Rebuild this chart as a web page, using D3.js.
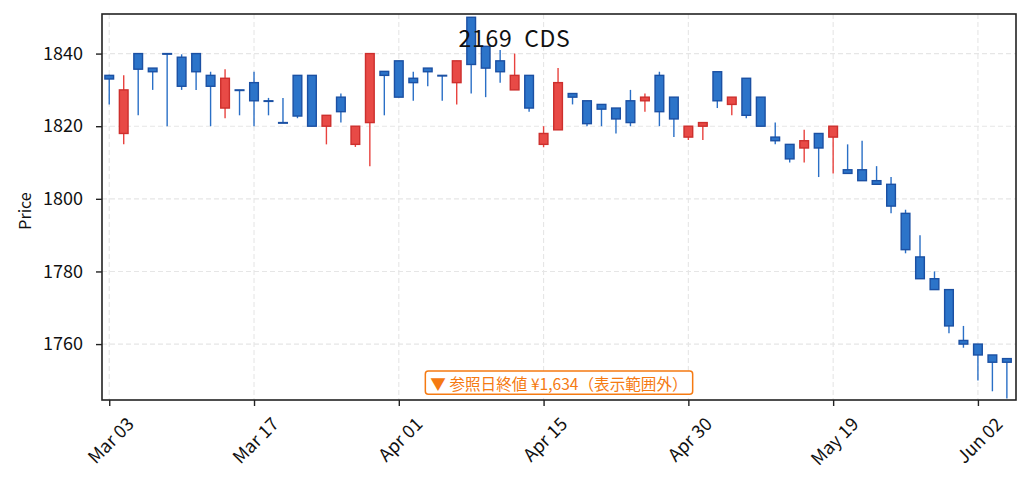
<!DOCTYPE html>
<html><head><meta charset="utf-8">
<script src="https://cdn.jsdelivr.net/npm/d3@7/dist/d3.min.js"></script>
<style>
html,body{margin:0;padding:0;background:#fff;}
svg{display:block;font-family:"Noto Sans CJK JP","Noto Sans",sans-serif;}
</style></head>
<body>
<svg id="c" width="1029" height="491"></svg>
<script>
const dates = ["Mar 03","Mar 04","Mar 05","Mar 06","Mar 07","Mar 10","Mar 11","Mar 12","Mar 13","Mar 14",
"Mar 17","Mar 18","Mar 19","Mar 21","Mar 24","Mar 25","Mar 26","Mar 27","Mar 28","Mar 31",
"Apr 01","Apr 02","Apr 03","Apr 04","Apr 07","Apr 08","Apr 09","Apr 10","Apr 11","Apr 14",
"Apr 15","Apr 16","Apr 17","Apr 18","Apr 21","Apr 22","Apr 23","Apr 24","Apr 25","Apr 28",
"Apr 30","May 01","May 07","May 08","May 09","May 12","May 13","May 14","May 15","May 16",
"May 19","May 20","May 21","May 22","May 23","May 26","May 27","May 28","May 29","May 30",
"Jun 02","Jun 03","Jun 04"];
const openV  = [1834,1818,1840,1836,1840,1839,1840,1834,1825,1830, 1832,1827,1821,1834,1834,1820,1828,1815,1821,1835.1,
 1838,1833.2,1836,1834,1832,1850,1842,1838,1830,1834, 1815,1819,1829,1827,1826,1825,1827,1827,1834,1828,
 1817,1820,1835,1826,1833.2,1828,1817,1815,1814,1818, 1817,1808,1808,1805,1804,1796,1784,1778,1775,1761,
 1760,1757,1756];
const highV  = [1834.2,1834,1840,1836,1840,1839.8,1840,1835,1835.7,1830, 1835,1827.8,1827.8,1834,1834,1823,1829,1820,1840,1835.1,
 1838,1835,1836,1834,1838,1850,1842,1841,1840,1834, 1820,1836,1829,1827,1826,1825,1830,1829,1835,1828,
 1820,1821,1835,1828,1833.2,1828,1821,1815,1819,1818, 1820,1815,1816,1809,1806,1797,1790,1780,1775,1765,
 1760,1757,1756];
const lowV   = [1826,1815,1823,1830,1820,1830,1830,1820,1822.2,1823, 1820,1823,1821,1822.2,1820,1815,1821,1814.3,1809,1823,
 1828,1827,1831,1827,1826,1829,1828,1832,1830,1824, 1814.2,1819,1826,1820,1820,1818,1820,1824,1820,1817,
 1816.2,1816.2,1825,1823,1822.2,1820,1815,1810,1810,1806, 1807,1807,1805,1804,1796,1785,1778,1775,1763,1759,
 1750,1747,1745];
const closeV = [1833,1830,1835.7,1835,1840,1831,1835,1831,1833.2,1830, 1827,1827,1821,1822.8,1820,1823,1824,1820,1840,1834,
 1828,1832,1835,1834,1838,1837,1836,1835,1834,1825, 1818,1832,1828,1820.7,1824.7,1822,1821,1828,1824,1822,
 1820,1821,1827,1828,1823,1820,1816,1811,1816,1814, 1820,1807,1805,1804,1798,1786,1778,1775,1765,1760,
 1757,1755,1755];
const yTicks = [1760,1780,1800,1820,1840];
const xTickIdx = [0,10,20,30,40,50,60];
const titleText = "2169  CDS";
const noteText = "▼ 参照日終値 ¥1,634（表示範囲外）";

const FONT = '"Noto Sans CJK JP","Noto Sans",sans-serif';
const svg = d3.select("#c");
const L=102, R=1016, T=14, B=400;
const x = d3.scaleLinear().domain([-0.5, 62.63]).range([L, R]);
const y = d3.scaleLinear().domain([1744.6, 1850.9]).range([B, T]);
const step = x(1)-x(0);
const bw = step*0.6;

const data = dates.map((d,i)=>({i, d, o:openV[i], h:highV[i], l:lowV[i], c:closeV[i]}));

// grid
const g = svg.append("g");
g.selectAll("line.hg").data(yTicks).join("line")
  .attr("x1",L).attr("x2",R).attr("y1",d=>y(d)).attr("y2",d=>y(d))
  .attr("stroke","#e6e6e6").attr("stroke-width",1.1).attr("stroke-dasharray","5,3");
g.selectAll("line.vg").data(xTickIdx).join("line")
  .attr("x1",d=>x(d)).attr("x2",d=>x(d)).attr("y1",T).attr("y2",B)
  .attr("stroke","#e6e6e6").attr("stroke-width",1.1).attr("stroke-dasharray","5,3");

const blueFill="#2c74c9", blueEdge="#1b50a3", redFill="#e84a46", redEdge="#cd2f2d";
const up = d=>d.c>d.o;

const cg = svg.append("g");
cg.selectAll("line.w").data(data).join("line")
  .attr("x1",d=>x(d.i)).attr("x2",d=>x(d.i)).attr("y1",d=>y(d.h)).attr("y2",d=>y(d.l))
  .attr("stroke",d=>up(d)?"#e8423e":"#2a6fc6").attr("stroke-width",1.4);
cg.selectAll("rect.b").data(data).join("rect")
  .attr("x",d=>x(d.i)-bw/2).attr("width",bw)
  .attr("y",d=>y(Math.max(d.o,d.c)))
  .attr("height",d=>Math.max(0.6, Math.abs(y(d.o)-y(d.c))))
  .attr("fill",d=>up(d)?redFill:blueFill)
  .attr("stroke",d=>up(d)?redEdge:blueEdge).attr("stroke-width",1.4);

// frame
svg.append("rect").attr("x",L).attr("y",T).attr("width",R-L).attr("height",B-T)
  .attr("fill","none").attr("stroke","#222").attr("stroke-width",1.6);

// y axis
const ya = svg.append("g").attr("transform",`translate(${L},0)`)
  .call(d3.axisLeft(y).tickValues(yTicks).tickSize(6).tickPadding(13).tickFormat(d3.format("d")));
ya.select(".domain").remove();
ya.selectAll(".tick line").attr("stroke","#222").attr("stroke-width",1.4);
ya.selectAll(".tick text").attr("fill","#111").style("font-size","18px").style("font-family",FONT);

// x axis
const xa = svg.append("g").attr("transform",`translate(0,${B})`)
  .call(d3.axisBottom(x).tickValues(xTickIdx).tickSize(6).tickFormat(i=>dates[i]));
xa.select(".domain").remove();
xa.selectAll(".tick line").attr("stroke","#222").attr("stroke-width",1.4);
xa.selectAll(".tick text").attr("fill","#111").style("font-size","18px")
  .style("font-family",FONT)
  .attr("text-anchor","middle").attr("dy",null).attr("dominant-baseline","central")
  .each(function(){
    const w=this.getComputedTextLength();
    const h=16;
    const half=(w+h)*0.7071/2;
    const cy=6+8+half;
    d3.select(this).attr("y",cy).attr("transform",`rotate(-45,0,${cy})`);
  });

// y label
svg.append("text").attr("transform","translate(24,211) rotate(-90)")
  .attr("text-anchor","middle").attr("dominant-baseline","central")
  .style("font-size","16px").attr("fill","#111").text("Price");

// title
svg.append("text").attr("x",514.5).attr("y",47).attr("text-anchor","middle")
  .attr("xml:space","preserve").style("white-space","pre")
  .style("font-size","23px").style("letter-spacing","0.7px").attr("fill","#111").text(titleText);

// note box
const nbox = svg.append("rect");
const nt = svg.append("text").attr("x",(L+R)/2).attr("y",383).attr("text-anchor","middle")
  .attr("dominant-baseline","central").style("font-size","15.6px").attr("fill","#f57a12").text(noteText);
const bb = nt.node().getBBox();
nbox.attr("x",bb.x-5).attr("y",371).attr("width",bb.width+10).attr("height",23.3)
  .attr("rx",3).attr("fill","#fff").attr("stroke","#f57a12").attr("stroke-width",1.5);
</script>
</body></html>
